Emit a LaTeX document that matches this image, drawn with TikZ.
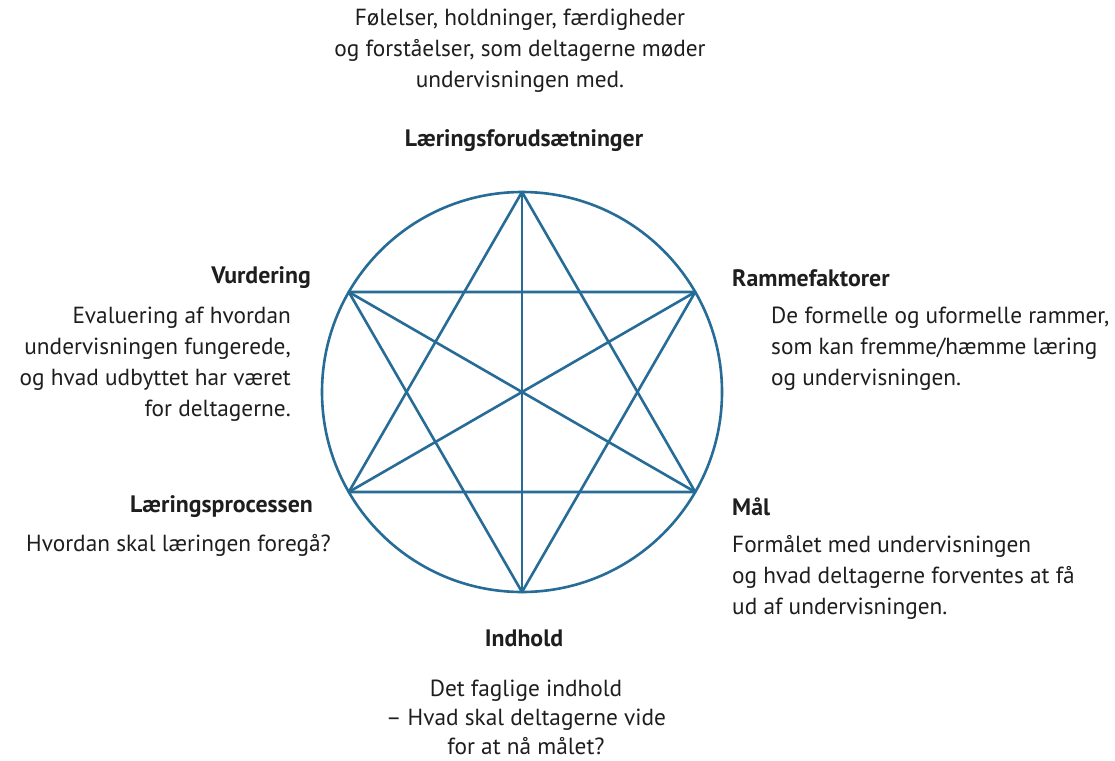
\documentclass[tikz,border=0pt]{standalone}
\usepackage{fontspec}
\setmainfont{PT Sans}
\begin{document}
\begin{tikzpicture}[x=1pt,y=-1pt,
  star/.style={draw=starblue,line width=2.6pt,line join=round},
  txt/.style={inner sep=0pt,text=textgray,font=\fontsize{23.3}{31}\selectfont},
  head/.style={inner sep=0pt,text=textgray,font=\fontsize{23.8}{31}\selectfont\bfseries}]
\definecolor{starblue}{RGB}{38,108,150}
\definecolor{textgray}{RGB}{30,30,30}
\useasboundingbox[fill=white] (0,0) rectangle (1115,760);
% geometry
\coordinate (C) at (522,392);
\coordinate (T) at (522,192);
\coordinate (UR) at (695.2,292);
\coordinate (LR) at (695.2,492);
\coordinate (B) at (522,592);
\coordinate (LL) at (348.8,492);
\coordinate (UL) at (348.8,292);
\draw[star] (C) circle[radius=200];
\draw[star] (T) -- (LR) -- (LL) -- cycle;
\draw[star] (B) -- (UL) -- (UR) -- cycle;
\draw[star] (T) -- (B);
\draw[star] (UL) -- (LR);
\draw[star] (UR) -- (LL);
% texts
\node[txt,align=center] (topd) at (520,51) {Følelser, holdninger, færdigheder\\og forståelser, som deltagerne møder\\undervisningen med.};
\node[head] (toph) at (524,141) {Læringsforudsætninger};
\node[head,anchor=east] (vurh) at (311,278) {Vurdering};
\node[txt,align=right,anchor=east] (vurd) at (291,364) {Evaluering af hvordan\\undervisningen fungerede,\\og hvad udbyttet har været\\for deltagerne.};
\node[head,anchor=west] (ramh) at (732,278) {Rammefaktorer};
\node[txt,align=left,anchor=west] (ramd) at (771,349) {De formelle og uformelle rammer,\\som kan fremme/hæmme læring\\og undervisningen.};
\node[head,anchor=east] (larh) at (313,507) {Læringsprocessen};
\node[txt,anchor=east] (lard) at (331,545) {Hvordan skal læringen foregå?};
\node[head,anchor=west] (malh) at (732,507) {Mål};
\node[txt,align=left,anchor=west] (mald) at (732,577) {Formålet med undervisningen\\og hvad deltagerne forventes at få\\ud af undervisningen.};
\node[head] (indh) at (524,638) {Indhold};
\node[txt,align=center,font=\fontsize{23.3}{29}\selectfont] (indd) at (526,717) {Det faglige indhold\\– Hvad skal deltagerne vide\\for at nå målet?};
\end{tikzpicture}
\end{document}
